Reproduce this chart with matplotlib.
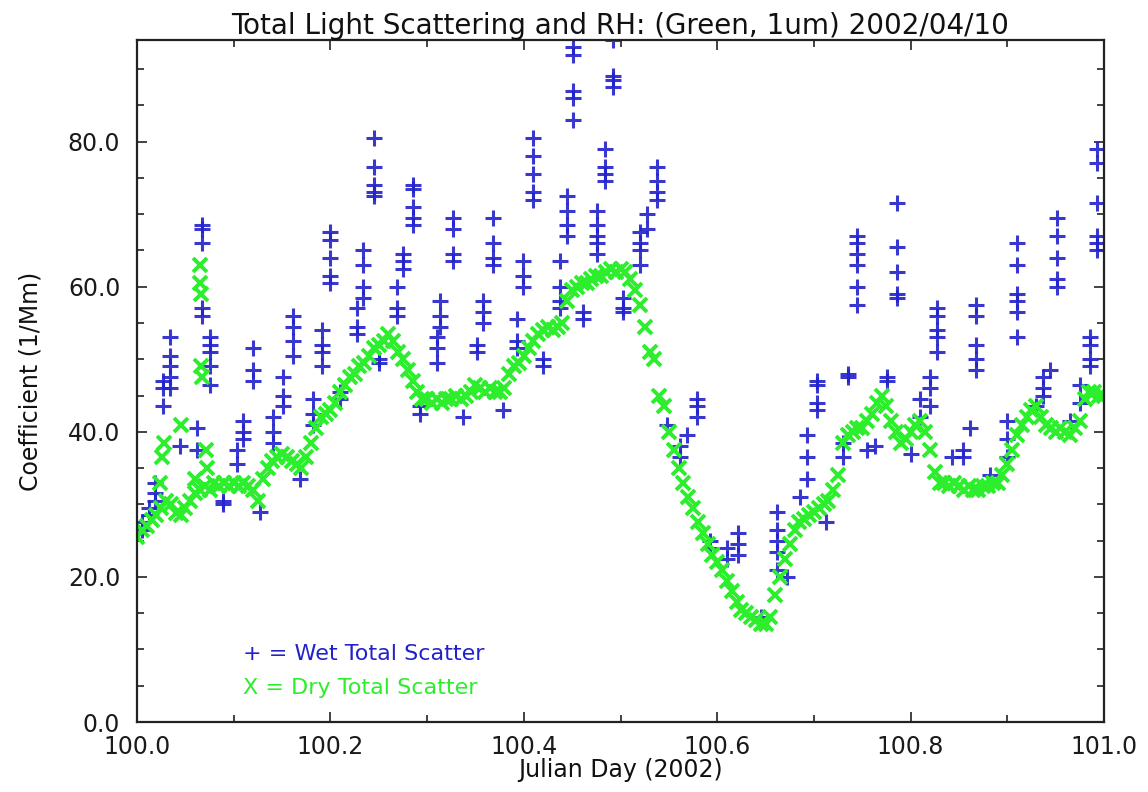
import numpy as np
import matplotlib
matplotlib.use("Agg")
import matplotlib.pyplot as plt
from matplotlib.ticker import MultipleLocator, FormatStrFormatter

# ---- dry total scatter, sampled every 0.005 day from day 100.000 ----
dry_start = 100.0
dry_step = 0.005
dry_values = [
    25.5, 26.5, 27.0, 27.8, 28.5, 29.5, 30.5, 30.0, 28.8, 28.5,
    29.5, 30.5, 31.5, 32.0, 32.5, 32.0, 33.0, 32.5, 33.0, 32.5,
    33.0, 32.5, 33.0, 32.5, 32.0, 30.5, 33.5, 35.0, 36.0, 36.5,
    37.0, 36.5, 36.0, 35.5, 35.0, 36.5, 38.5, 40.5, 42.0, 42.5,
    43.0, 44.0, 45.5, 46.5, 47.5, 48.0, 49.0, 49.5, 50.5, 51.5,
    52.0, 52.5, 53.5, 52.5, 51.0, 50.0, 48.5, 47.0, 45.5, 44.5,
    44.5, 44.0, 44.5, 44.0, 44.5, 44.5, 45.0, 44.5, 45.0, 45.5,
    46.5, 46.0, 45.5, 46.0, 45.5, 45.5, 46.0, 48.0, 49.0, 49.5,
    50.5, 51.5, 52.5, 53.5, 54.0, 54.5, 54.0, 54.5, 55.0, 58.0,
    59.5, 60.0, 60.5, 60.5, 61.0, 61.5, 61.5, 62.0, 62.5, 62.0,
    62.5, 62.0, 61.0, 59.5, 57.5, 54.5, 51.0, 50.0, 45.0, 43.5,
    40.0, 37.5, 35.0, 33.0, 31.0, 29.5, 27.5, 26.0, 24.5, 23.0,
    22.0, 21.0, 19.5, 18.0, 16.5, 15.5, 15.0, 14.5, 14.0, 13.5,
    13.5, 14.5, 17.5, 20.0, 22.5, 24.5, 26.5, 27.5, 28.0, 28.5,
    29.0, 29.5, 30.0, 30.5, 32.0, 34.0, 38.5, 39.5, 40.0, 40.5,
    40.5, 41.5, 42.5, 44.0, 45.0, 43.5, 41.5, 40.0, 38.5, 39.0,
    40.0, 41.0, 41.5, 40.0, 37.5, 34.5, 33.0, 33.0, 32.5, 33.0,
    32.5, 32.0, 32.5, 32.0, 32.0, 32.5, 32.5, 33.0, 33.0, 34.0,
    35.5, 37.5, 39.5, 41.0, 42.0, 43.0, 43.5, 42.0, 41.0, 40.5,
    40.0, 40.5, 40.0, 39.5, 40.5, 41.5, 44.5, 45.5, 45.5, 45.0,
    45.0,
]

# isolated dry readings that sit off the main curve
dry_extra_day = [100.024, 100.026, 100.028, 100.045, 100.060, 100.065,
                 100.065, 100.066, 100.066, 100.067, 100.071, 100.072]
dry_extra_values = [33.0, 36.5, 38.5, 41.0, 33.5, 63.0,
                    60.5, 59.0, 49.0, 47.5, 37.5, 35.0]

# ---- wet total scatter: one RH scan per time stamp ----
wet_day = [
    100.005, 100.012, 100.019, 100.027, 100.034, 100.044, 100.062, 100.067,
    100.075, 100.089, 100.103, 100.110, 100.120, 100.127, 100.141, 100.151,
    100.161, 100.169, 100.182, 100.191, 100.200, 100.210, 100.227, 100.234,
    100.245, 100.250, 100.269, 100.275, 100.285, 100.293, 100.310, 100.313,
    100.327, 100.337, 100.352, 100.358, 100.368, 100.378, 100.393, 100.399,
    100.410, 100.420, 100.437, 100.445, 100.451, 100.461, 100.476, 100.484,
    100.492, 100.503, 100.520, 100.527, 100.538, 100.548, 100.562, 100.569,
    100.579, 100.593, 100.610, 100.621, 100.645, 100.662, 100.672, 100.686,
    100.693, 100.703, 100.713, 100.730, 100.735, 100.745, 100.755, 100.763,
    100.776, 100.786, 100.800, 100.810, 100.820, 100.827, 100.843, 100.854,
    100.861, 100.868, 100.882, 100.900, 100.910, 100.930, 100.937, 100.944,
    100.951, 100.965, 100.975, 100.986, 100.993,
]
wet_scans = [
    [26.5, 27.5], [28.5, 29.5], [30.5, 31.5, 33.0], [43.5, 46.0, 47.0],
    [53.0, 50.5, 49.0, 47.5, 46.0], [38.0], [40.5, 37.5],
    [68.5, 68.0, 66.0, 57.0, 56.0],
    [53.0, 52.0, 51.0, 49.0, 46.5], [30.0, 30.5], [37.5, 35.5],
    [41.5, 40.0, 39.0], [51.5, 48.5, 47.0], [29.0], [42.0, 40.0, 38.5],
    [47.5, 45.0, 43.5],
    [56.0, 54.5, 52.5, 50.5], [33.5], [44.5, 42.5, 41.0],
    [54.0, 52.0, 51.0, 49.0], [67.5, 66.5, 64.0, 61.5, 60.5], [45.5, 44.5],
    [57.0, 54.5, 53.5], [65.0, 63.0, 60.0, 58.5],
    [80.5, 76.5, 74.0, 73.0, 72.5], [50.0, 49.5], [60.0, 57.0, 56.0],
    [64.5, 63.5, 62.5], [74.0, 73.5, 71.0, 69.5, 68.5], [43.5, 42.5],
    [53.0, 51.5, 49.5], [58.0, 56.0, 54.5],
    [69.5, 68.0, 64.5, 63.5], [42.0], [52.0, 51.0], [58.0, 56.5, 55.0],
    [69.5, 66.0, 64.0, 63.0], [43.0], [55.5, 52.5, 51.5], [63.5, 61.5, 60.0],
    [80.5, 78.0, 75.5, 73.0, 72.0], [50.0, 49.0], [63.5, 60.0, 58.0, 57.0],
    [72.5, 70.5, 68.5, 67.0], [93.0, 92.0, 87.0, 86.0, 83.0], [56.5, 55.5],
    [70.5, 68.5, 67.0, 66.0, 64.5], [79.0, 76.5, 75.5, 74.5],
    [94.0, 89.0, 88.5, 87.5], [58.5, 57.0, 56.5], [67.5, 66.0, 65.0, 63.0],
    [70.0, 68.0], [76.5, 74.5, 73.0, 72.0], [41.0], [38.0, 36.5], [39.5],
    [44.5, 43.5, 42.0], [24.0, 25.0], [24.0, 22.5], [26.0, 23.0, 24.5],
    [14.5], [29.0, 26.5, 25.0, 23.5, 21.0], [20.0], [31.0],
    [33.5, 36.5, 39.5], [47.0, 46.5, 44.0, 43.0], [27.5], [36.5, 38.5],
    [47.5, 48.0], [67.0, 66.0, 64.5, 63.0, 60.0, 57.5], [37.5], [38.0],
    [47.5, 47.0], [71.5, 65.5, 62.0, 59.0, 58.5], [37.0], [44.5, 42.0],
    [47.5, 46.0, 43.5], [57.0, 56.0, 54.0, 53.0, 51.0], [36.5], [37.5, 36.5],
    [40.5], [57.5, 56.0, 52.0, 50.0, 48.5], [34.0], [36.5, 39.0, 41.5],
    [66.0, 63.0, 59.0, 58.0, 56.5, 53.0], [43.5], [47.5, 46.0, 45.0],
    [48.5],
    [69.5, 67.0, 64.0, 61.0, 60.0], [41.5], [46.5, 44.0],
    [53.0, 52.0, 50.0, 49.0], [79.0, 77.0, 71.5, 67.0, 66.0, 65.0],
]

title_text = "Total Light Scattering and RH: (Green, 1um) 2002/04/10"
x_label = "Julian Day (2002)"
y_label = "Coefficient (1/Mm)"
wet_label = "+ = Wet Total Scatter"
dry_label = "X = Dry Total Scatter"

# ---- assemble point arrays ----
dry_day = dry_start + dry_step * np.arange(len(dry_values))
dry_all_day = np.concatenate([dry_day, dry_extra_day])
dry_all_val = np.concatenate([dry_values, dry_extra_values])

wet_x = np.concatenate([[d] * len(s) for d, s in zip(wet_day, wet_scans)])
wet_y = np.concatenate([s for s in wet_scans])

BLUE = "#2222cc"
GREEN = "#2cee2c"

plt.rcParams["font.family"] = ["DejaVu Sans"]

fig = plt.figure(figsize=(11.48, 7.92), dpi=100)
ax = fig.add_axes([137 / 1148, 1 - 722 / 792, (1104 - 137) / 1148, (722 - 40) / 792])

ax.plot(wet_x, wet_y, linestyle="none", marker="+", color=BLUE,
        markersize=11, markeredgewidth=2.2, alpha=0.9)
ax.plot(dry_all_day, dry_all_val, linestyle="none", marker="x", color=GREEN,
        markersize=10, markeredgewidth=2.8)

ax.set_xlim(100.0, 101.0)
ax.set_ylim(0.0, 94.0)

ax.xaxis.set_major_locator(MultipleLocator(0.2))
ax.xaxis.set_minor_locator(MultipleLocator(0.1))
ax.yaxis.set_major_locator(MultipleLocator(20))
ax.yaxis.set_minor_locator(MultipleLocator(5))
ax.xaxis.set_major_formatter(FormatStrFormatter("%.1f"))
ax.yaxis.set_major_formatter(FormatStrFormatter("%.1f"))

ax.tick_params(which="both", direction="in", top=True, right=True,
               colors="#222222", width=1.2)
ax.tick_params(which="major", length=7, labelsize=17)
ax.tick_params(which="minor", length=5)
ax.tick_params(axis="x", which="major", pad=9)
ax.tick_params(axis="y", which="major", pad=12)
for lbl in ax.get_xticklabels() + ax.get_yticklabels():
    lbl.set_color("#1a1a1a")

for side in ["left", "right", "top", "bottom"]:
    ax.spines[side].set_linewidth(1.6)
    ax.spines[side].set_color("#222222")

ax.set_title(title_text, fontsize=20, pad=4, color="#111111")
ax.set_xlabel(x_label, fontsize=17, labelpad=0, color="#111111")
ax.set_ylabel(y_label, fontsize=17, labelpad=18, color="#111111")

ax.text(0.110, 0.100, wet_label, transform=ax.transAxes, color=BLUE,
        fontsize=16, va="center", ha="left")
ax.text(0.110, 0.050, dry_label, transform=ax.transAxes, color=GREEN,
        fontsize=16, va="center", ha="left")

fig.savefig("out.png", dpi=100, facecolor="white")
